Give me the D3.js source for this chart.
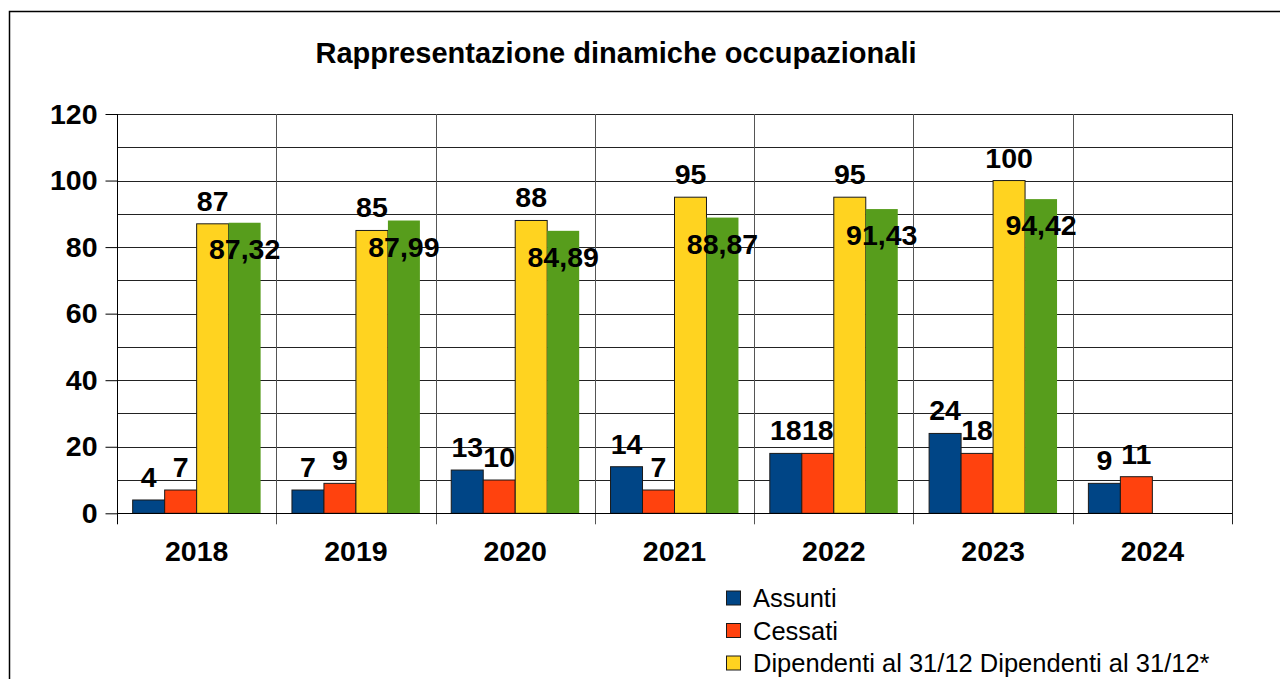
<!DOCTYPE html>
<html>
<head>
<meta charset="utf-8">
<script src="https://cdn.jsdelivr.net/npm/d3@7"></script>
<style>
  body { margin: 0; background: #fff; }
  svg { display: block; font-family: "Liberation Sans", Arial, sans-serif; }
</style>
</head>
<body>
<div id="chart"></div>
<script>
  const years = ["2018", "2019", "2020", "2021", "2022", "2023", "2024"];
  const assunti = [4, 7, 13, 14, 18, 24, 9];
  const cessati = [7, 9, 10, 7, 18, 18, 11];
  const dipendenti = [87, 85, 88, 95, 95, 100, null];
  const dipendentiStar = [87.32, 87.99, 84.89, 88.87, 91.43, 94.42, null];
  const yTicks = [0, 20, 40, 60, 80, 100, 120];
  const legendLabels = ["Assunti", "Cessati", "Dipendenti al 31/12 Dipendenti al 31/12*"];

  const width = 1280;
  const height = 679;
  const plot = { left: 117, right: 1232, top: 114, bottom: 513.3 };
  const labelSize = "28.5px";

  const series = [
    { key: "assunti", values: assunti, color: "#004586", stroke: "#1a1a1a" },
    { key: "cessati", values: cessati, color: "#ff420e", stroke: "#1a1a1a" },
    { key: "dipendenti", values: dipendenti, color: "#ffd320", stroke: "#1a1a1a" },
    { key: "dipendentiStar", values: dipendentiStar, color: "#579d1c", stroke: "none" }
  ];

  const svg = d3.select("#chart")
    .append("svg")
    .attr("width", width)
    .attr("height", height);

  // outer frame
  svg.append("rect")
    .attr("x", 9.5)
    .attr("y", 11.5)
    .attr("width", 1300)
    .attr("height", 700)
    .attr("fill", "none")
    .attr("stroke", "#000")
    .attr("stroke-width", 1.5);

  const x = d3.scaleBand()
    .domain(years)
    .range([plot.left, plot.right])
    .padding(0);

  const xInner = d3.scaleBand()
    .domain(series.map(s => s.key))
    .range([0, x.bandwidth()])
    .paddingInner(0)
    .paddingOuter(0.49);

  const y = d3.scaleLinear()
    .domain([0, 120])
    .range([plot.bottom, plot.top]);

  // horizontal gridlines every 10
  svg.append("g")
    .selectAll("line")
    .data(d3.range(10, 121, 10))
    .join("line")
    .attr("x1", plot.left)
    .attr("x2", plot.right)
    .attr("y1", d => Math.round(y(d)) + 0.5)
    .attr("y2", d => Math.round(y(d)) + 0.5)
    .attr("stroke", "#222")
    .attr("stroke-width", 1);

  // vertical category separators
  svg.append("g")
    .selectAll("line")
    .data(years.slice(1))
    .join("line")
    .attr("x1", d => Math.round(x(d)) + 0.5)
    .attr("x2", d => Math.round(x(d)) + 0.5)
    .attr("y1", plot.top)
    .attr("y2", plot.bottom + 11)
    .attr("stroke", "#555")
    .attr("stroke-width", 1);

  // right edge of plot
  svg.append("line")
    .attr("x1", Math.round(plot.right) + 0.5)
    .attr("x2", Math.round(plot.right) + 0.5)
    .attr("y1", plot.top)
    .attr("y2", plot.bottom + 11)
    .attr("stroke", "#222");

  // bars
  series.forEach(s => {
    svg.append("g")
      .selectAll("rect")
      .data(years.map((yr, i) => ({ yr, v: s.values[i] })).filter(d => d.v != null))
      .join("rect")
      .attr("x", d => x(d.yr) + xInner(s.key))
      .attr("y", d => y(d.v))
      .attr("width", xInner.bandwidth())
      .attr("height", d => y(0) - y(d.v))
      .attr("fill", s.color)
      .attr("stroke", s.stroke)
      .attr("stroke-width", 1);
  });

  // bar labels
  series.forEach(s => {
    const inside = s.key === "dipendentiStar";
    svg.append("g")
      .selectAll("text")
      .data(years.map((yr, i) => ({ yr, v: s.values[i] })).filter(d => d.v != null))
      .join("text")
      .attr("x", d => x(d.yr) + xInner(s.key) + xInner.bandwidth() / 2)
      .attr("y", d => inside ? y(d.v) + 36 : y(d.v) - 13)
      .attr("text-anchor", "middle")
      .style("font-size", labelSize)
      .style("font-weight", "bold")
      .attr("fill", "#000")
      .text(d => inside ? d.v.toFixed(2).replace(".", ",") : d.v);
  });

  // Y axis
  const yAxis = svg.append("g")
    .attr("transform", `translate(${plot.left + 0.5},0)`)
    .call(d3.axisLeft(y).tickValues(yTicks).tickSize(12).tickPadding(8));
  yAxis.select(".domain").attr("stroke", "#000").attr("d", `M0,${plot.bottom}V${plot.top}`);
  yAxis.selectAll(".tick line").attr("stroke", "#000");
  yAxis.selectAll("text")
    .attr("fill", "#000")
    .style("font-size", labelSize)
    .style("font-weight", "bold")
    .style("font-family", "Liberation Sans, Arial, sans-serif");

  // X axis
  const xAxis = svg.append("g")
    .attr("transform", `translate(0,${Math.round(plot.bottom) + 0.5})`)
    .call(d3.axisBottom(x).tickSize(0).tickPadding(27));
  xAxis.select(".domain").attr("stroke", "#000").attr("d", `M${plot.left},0H${plot.right}`);
  xAxis.selectAll("text")
    .attr("fill", "#000")
    .style("font-size", labelSize)
    .style("font-weight", "bold")
    .style("font-family", "Liberation Sans, Arial, sans-serif");
  svg.append("line")
    .attr("x1", plot.left + 0.5)
    .attr("x2", plot.left + 0.5)
    .attr("y1", plot.bottom)
    .attr("y2", plot.bottom + 11)
    .attr("stroke", "#000");

  // Title
  svg.append("text")
    .attr("x", 616)
    .attr("y", 63)
    .attr("text-anchor", "middle")
    .style("font-size", "29px")
    .style("font-weight", "bold")
    .text("Rappresentazione dinamiche occupazionali");

  // Legend
  const legend = svg.append("g")
    .selectAll("g")
    .data(legendLabels)
    .join("g")
    .attr("transform", (d, i) => `translate(726,${598 + i * 32.5})`);
  legend.append("rect")
    .attr("x", 0.5)
    .attr("y", -7)
    .attr("width", 14)
    .attr("height", 14)
    .attr("fill", (d, i) => series[i].color)
    .attr("stroke", "#1a1a1a");
  legend.append("text")
    .attr("x", 27)
    .attr("y", 9)
    .style("font-size", "25.5px")
    .attr("fill", "#000")
    .text(d => d);
</script>
</body>
</html>
